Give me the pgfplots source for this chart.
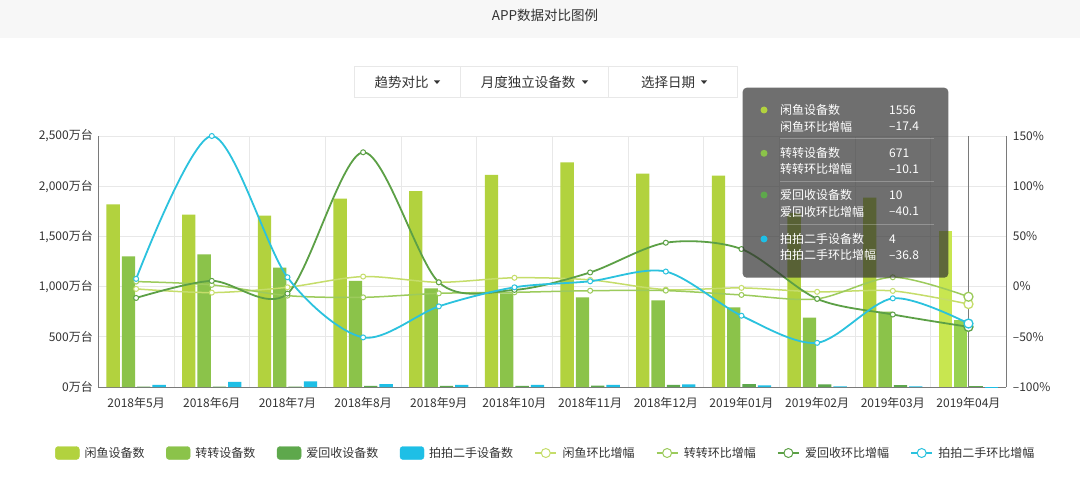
\documentclass[border=0pt]{standalone}
\usepackage{pgfplots}
\pgfplotsset{compat=1.18}
\usepackage{fontspec}
\setmainfont{Noto Sans CJK SC}
\definecolor{txt}{HTML}{333333}
\definecolor{cXY}{HTML}{B2D23E}
\definecolor{cZZ}{HTML}{8BC34A}
\definecolor{cAH}{HTML}{5EA84C}
\definecolor{cPP}{HTML}{1EBFE6}
\definecolor{cXYh}{HTML}{C8E650}
\definecolor{cZZh}{HTML}{98D250}
\definecolor{lXY}{HTML}{C5DD6A}
\definecolor{lZZ}{HTML}{9CCB5C}
\definecolor{lAH}{HTML}{5CA046}
\definecolor{lPP}{HTML}{2BC2DE}
\definecolor{gridc}{HTML}{E8E8E8}
\definecolor{axisc}{HTML}{7A7A7A}
\definecolor{band}{HTML}{F7F7F7}
\definecolor{tipbg}{HTML}{323232}
\begin{document}
\begin{tikzpicture}
\useasboundingbox (0pt,0pt) rectangle (1080pt,488pt);
\fill[white] (0pt,0pt) rectangle (1080pt,488pt);
\fill[band] (0pt,450pt) rectangle (1080pt,488pt);
\node[font=\fontsize{13.5}{16}\selectfont, text=txt, inner sep=0pt] at (545pt,473pt) {APP数据对比图例};
% dropdown bar
\draw[draw=gridc, fill=white, line width=0.8pt] (354.5pt,390.7pt) rectangle (737.5pt,421.3pt);
\draw[gridc, line width=0.8pt] (460.5pt,390.7pt) -- (460.5pt,421.3pt);
\draw[gridc, line width=0.8pt] (608pt,390.7pt) -- (608pt,421.3pt);
\node[font=\fontsize{13.5}{16}\selectfont, text=txt, inner sep=0pt] at (401.5pt,406pt) {趋势对比};
\node[font=\fontsize{13.5}{16}\selectfont, text=txt, inner sep=0pt] at (528pt,406pt) {月度独立设备数};
\node[font=\fontsize{13.5}{16}\selectfont, text=txt, inner sep=0pt] at (668pt,406pt) {选择日期};
\fill[txt] (434pt,407.5pt) -- (440pt,407.5pt) -- (437pt,404pt) -- cycle;
\fill[txt] (582pt,407.5pt) -- (588pt,407.5pt) -- (585pt,404pt) -- cycle;
\fill[txt] (701pt,407.5pt) -- (707pt,407.5pt) -- (704pt,404pt) -- cycle;

\begin{axis}[
  at={(98.3pt,101pt)}, anchor=south west,
  scale only axis, width=908pt, height=251pt,
  xmin=0.5, xmax=12.5, ymin=0, ymax=2500,
  axis x line=bottom, axis y line=left,
  axis line style={-, draw=axisc, line width=1pt},
  xtick={1,2,3,4,5,6,7,8,9,10,11,12},
  xticklabels={2018年5月,2018年6月,2018年7月,2018年8月,2018年9月,2018年10月,2018年11月,2018年12月,2019年01月,2019年02月,2019年03月,2019年04月},
  minor xtick={0.5,1.5,2.5,3.5,4.5,5.5,6.5,7.5,8.5,9.5,10.5,11.5,12.5},
  xminorgrids=true, ymajorgrids=true,
  major grid style={draw=gridc, line width=0.8pt},
  minor grid style={draw=gridc, line width=0.8pt},
  major tick length=0pt, minor tick length=0pt,
  ytick={0,500,1000,1500,2000,2500},
  yticklabels={0万台,500万台,{1,000万台},{1,500万台},{2,000万台},{2,500万台}},
  tick label style={font=\fontsize{12}{14}\selectfont, text=txt},
  xticklabel style={yshift=-6.5pt},
  yticklabel style={xshift=-2pt},
  legend columns=8,
  legend style={at={(0.4928,-0.263)}, anchor=center, draw=none, fill=none,
    font=\fontsize{12}{14}\selectfont, text=txt,
    /tikz/every even column/.append style={column sep=19.5pt}},
]
% bars (months 1-11)
\addplot[ybar, bar width=13.3pt, bar shift=-23pt, fill=cXY, draw=none, forget plot] coordinates {
(1,1820) (2,1716) (3,1706) (4,1875) (5,1952) (6,2112) (7,2238) (8,2125) (9,2105) (10,1733) (11,1886)};
\addplot[ybar, bar width=13.3pt, bar shift=-7.67pt, fill=cZZ, draw=none, forget plot] coordinates {
(1,1302) (2,1322) (3,1188) (4,1056) (5,983) (6,933) (7,893) (8,863) (9,794) (10,690) (11,750)};
\addplot[ybar, bar width=13.3pt, bar shift=7.67pt, fill=cAH, draw=none, forget plot] coordinates {
(1,3) (2,3) (3,3) (4,12) (5,12) (6,12) (7,14) (8,20) (9,28) (10,25) (11,18)};
\addplot[ybar, bar width=13.3pt, bar shift=23pt, fill=cPP, draw=none, forget plot] coordinates {
(1,22) (2,50) (3,55) (4,28) (5,22) (6,22) (7,22) (8,25) (9,15) (10,6) (11,5)};
% highlighted month 12
\addplot[ybar, bar width=13.3pt, bar shift=-23pt, fill=cXYh, draw=none, forget plot] coordinates {(12,1556)};
\addplot[ybar, bar width=13.3pt, bar shift=-7.67pt, fill=cZZh, draw=none, forget plot] coordinates {(12,671)};
\addplot[ybar, bar width=13.3pt, bar shift=7.67pt, fill=cAH, draw=none, forget plot] coordinates {(12,10)};
\addplot[ybar, bar width=13.3pt, bar shift=23pt, fill=cPP, draw=none, forget plot] coordinates {(12,4)};
% legend
\addlegendimage{legend image code/.code={\fill[cXY, rounded corners=3pt] (0pt,-6.5pt) rectangle (24pt,6.5pt); \path (27pt,0pt);}}
\addlegendimage{legend image code/.code={\fill[cZZ, rounded corners=3pt] (0pt,-6.5pt) rectangle (24pt,6.5pt); \path (27pt,0pt);}}
\addlegendimage{legend image code/.code={\fill[cAH, rounded corners=3pt] (0pt,-6.5pt) rectangle (24pt,6.5pt); \path (27pt,0pt);}}
\addlegendimage{legend image code/.code={\fill[cPP, rounded corners=3pt] (0pt,-6.5pt) rectangle (24pt,6.5pt); \path (27pt,0pt);}}
\addlegendimage{legend image code/.code={\draw[lXY, line width=1.2pt] (0pt,0pt) -- (21pt,0pt); \draw[lXY, fill=white, line width=1pt] (10.5pt,0pt) circle (4.5pt); \path (25pt,0pt);}}
\addlegendimage{legend image code/.code={\draw[lZZ, line width=1.2pt] (0pt,0pt) -- (21pt,0pt); \draw[lZZ, fill=white, line width=1pt] (10.5pt,0pt) circle (4.5pt); \path (25pt,0pt);}}
\addlegendimage{legend image code/.code={\draw[lAH, line width=1.2pt] (0pt,0pt) -- (21pt,0pt); \draw[lAH, fill=white, line width=1pt] (10.5pt,0pt) circle (4.5pt); \path (25pt,0pt);}}
\addlegendimage{legend image code/.code={\draw[lPP, line width=1.2pt] (0pt,0pt) -- (21pt,0pt); \draw[lPP, fill=white, line width=1pt] (10.5pt,0pt) circle (4.5pt); \path (25pt,0pt);}}
\legend{闲鱼设备数,转转设备数,爱回收设备数,拍拍二手设备数,闲鱼环比增幅,转转环比增幅,爱回收环比增幅,拍拍二手环比增幅}
\end{axis}

\begin{axis}[
  at={(98.3pt,101pt)}, anchor=south west,
  scale only axis, width=908pt, height=251pt,
  xmin=0.5, xmax=12.5, ymin=-100, ymax=150,
  axis x line=none, axis y line=right,
  axis line style={-, draw=axisc, line width=1pt},
  ytick={-100,-50,0,50,100,150},
  yticklabels={–100\%,–50\%,0\%,50\%,100\%,150\%},
  major tick length=0pt,
  tick label style={font=\fontsize{12}{14}\selectfont, text=txt},
  yticklabel style={xshift=3pt},
]
\addplot[axisc, line width=1pt] coordinates {(12,-100) (12,150)};
\addplot[smooth, lXY, line width=1.5pt, mark=*, mark size=2.5pt, mark options={fill=white, line width=1pt}] coordinates {
(1,-2.3) (2,-6) (3,-0.7) (4,10) (5,4.3) (6,8.8) (7,6.7) (8,-3) (9,-1.3) (10,-5.2) (11,-4.3) (12,-17.4)};
\addplot[smooth, lZZ, line width=1.5pt, mark=*, mark size=2.5pt, mark options={fill=white, line width=1pt}] coordinates {
(1,5) (2,1.7) (3,-9) (4,-10.7) (5,-6.7) (6,-5.7) (7,-4.1) (8,-4) (9,-8.3) (10,-12.2) (11,9.3) (12,-10.1)};
\addplot[smooth, lAH, line width=1.8pt, mark=*, mark size=2.5pt, mark options={fill=white, line width=1pt}] coordinates {
(1,-11.3) (2,5.7) (3,-7) (4,133.8) (5,4.3) (6,-3.3) (7,14.1) (8,43.7) (9,37.4) (10,-12.2) (11,-27.8) (12,-40.1)};
\addplot[smooth, lPP, line width=1.8pt, mark=*, mark size=2.5pt, mark options={fill=white, line width=1pt}] coordinates {
(1,7.7) (2,150) (3,9.3) (4,-50.6) (5,-19.7) (6,-0.7) (7,5.3) (8,15) (9,-29) (10,-56) (11,-11.7) (12,-36.8)};
% hover emphasis at month 12
\addplot[only marks, mark=*, mark size=4.5pt, mark options={draw=lXY, fill=white, line width=1.3pt}] coordinates {(12,-17.4)};
\addplot[only marks, mark=*, mark size=4.5pt, mark options={draw=lZZ, fill=white, line width=1.3pt}] coordinates {(12,-10.1)};
\addplot[only marks, mark=*, mark size=4.5pt, mark options={draw=lAH, fill=white, line width=1.3pt}] coordinates {(12,-40.1)};
\addplot[only marks, mark=*, mark size=4.5pt, mark options={draw=lPP, fill=white, line width=1.3pt}] coordinates {(12,-36.8)};
\end{axis}

% tooltip
\fill[tipbg, fill opacity=0.7, rounded corners=4pt] (742.7pt,210.3pt) rectangle (948.3pt,400.3pt);
\fill[cXY] (764pt,378pt) circle (3.5pt);
\fill[cZZ] (764pt,334.7pt) circle (3.5pt);
\fill[cAH] (764pt,293pt) circle (3.5pt);
\fill[cPP] (764pt,249pt) circle (3.5pt);
\draw[white, opacity=0.25, line width=0.8pt] (780pt,349.7pt) -- (934pt,349.7pt);
\draw[white, opacity=0.25, line width=0.8pt] (780pt,306.3pt) -- (934pt,306.3pt);
\draw[white, opacity=0.25, line width=0.8pt] (780pt,263.7pt) -- (934pt,263.7pt);
\begin{scope}[every node/.style={font=\fontsize{12}{14}\selectfont, text=white, inner sep=0pt, anchor=west}]
\node at (780pt,378pt) {闲鱼设备数};
\node at (780pt,361.3pt) {闲鱼环比增幅};
\node at (780pt,334.7pt) {转转设备数};
\node at (780pt,318.7pt) {转转环比增幅};
\node at (780pt,293pt) {爱回收设备数};
\node at (780pt,276.3pt) {爱回收环比增幅};
\node at (780pt,249pt) {拍拍二手设备数};
\node at (780pt,233pt) {拍拍二手环比增幅};
\node at (889pt,378pt) {1556};
\node at (889pt,361.3pt) {–17.4};
\node at (889pt,334.7pt) {671};
\node at (889pt,318.7pt) {–10.1};
\node at (889pt,293pt) {10};
\node at (889pt,276.3pt) {–40.1};
\node at (889pt,249pt) {4};
\node at (889pt,233pt) {–36.8};
\end{scope}
\end{tikzpicture}
\end{document}
